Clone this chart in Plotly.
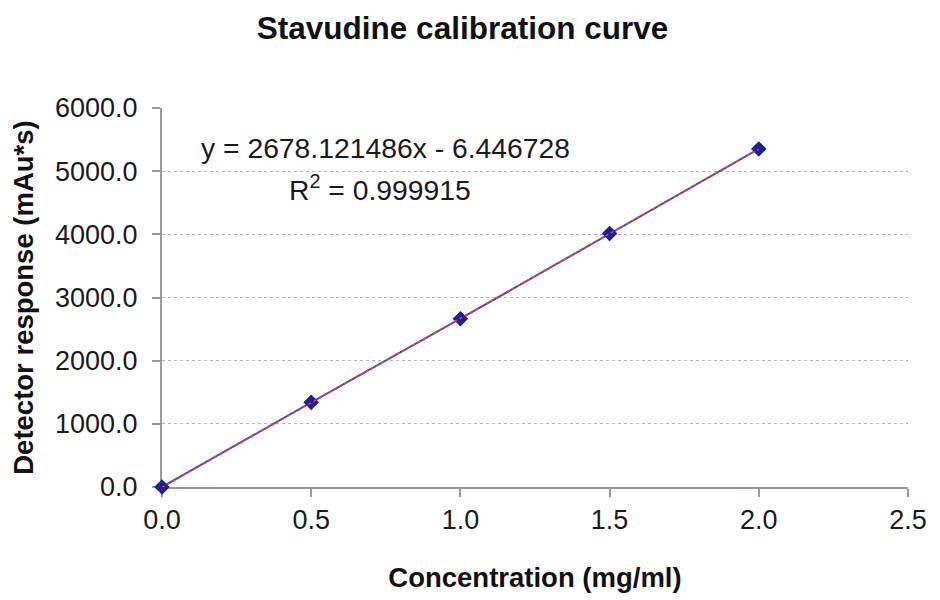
import numpy as np
import plotly.graph_objects as go

# calibration data (concentration mg/ml vs peak area mAu*s)
conc = [0.0, 0.5, 1.0, 1.5, 2.0]
response = [0.0, 1340.0, 2664.0, 4013.0, 5352.0]

slope = 2678.121486
intercept = -6.446728
r_squared = 0.999915

x_ticks = [0.0, 0.5, 1.0, 1.5, 2.0, 2.5]
y_ticks = [0, 1000, 2000, 3000, 4000, 5000, 6000]

_FONT = "Liberation Sans, Arial, sans-serif"
_AXIS = dict(
    showline=True,
    linecolor="#9a9a9a",
    linewidth=2,
    ticks="outside",
    ticklen=8,
    tickwidth=2,
    tickcolor="#9a9a9a",
    tickfont=dict(family=_FONT, size=27, color="#1a1a1a"),
    zeroline=False,
    automargin=False,
    layer="below traces",
)

fit_x = np.array([min(conc), max(conc)])
fit_y = slope * fit_x + intercept

fig = go.Figure()
fig.add_trace(go.Scatter(
    x=conc, y=response, mode="lines+markers", name="Stavudine",
    line=dict(color="#4a4ab8", width=2),
    marker=dict(symbol="diamond", size=12, color="#1f1f8f"),
    cliponaxis=False,
))
fig.add_trace(go.Scatter(
    x=fit_x, y=fit_y, mode="lines", name="Linear fit",
    line=dict(color="#ff3b3b", width=1.5, dash="dot"),
))

fig.add_annotation(
    x=0.125, y=5367, xref="x", yref="y", xanchor="left", yanchor="middle",
    text=f"y = {slope:.6f}x - {abs(intercept):.6f}", showarrow=False,
    font=dict(family=_FONT, size=28.3, color="#1a1a1a"),
)
fig.add_annotation(
    x=0.42, y=4735, xref="x", yref="y", xanchor="left", yanchor="middle",
    text=f"R<sup>2</sup> = {r_squared:.6f}", showarrow=False,
    font=dict(family=_FONT, size=28.3, color="#1a1a1a"),
)

# page body has an 8px margin, so the figure is drawn 8px in from the top-left
fig.update_layout(
    width=932, height=592,
    paper_bgcolor="white", plot_bgcolor="white",
    margin=dict(l=154, r=32, t=100, b=113, autoexpand=False),
    showlegend=False,
    title=dict(
        text="<b>Stavudine calibration curve</b>", x=0.4877, xanchor="center",
        y=0.966, yanchor="middle",
        font=dict(family=_FONT, size=31.5, color="#111111"),
    ),
)
fig.update_xaxes(
    **_AXIS, range=[0, 2.5], tickvals=x_ticks, tickformat=".1f", showgrid=False,
    title=dict(text="<b>Concentration (mg/ml)</b>", standoff=33,
               font=dict(family=_FONT, size=27.5, color="#111111")),
)
fig.update_yaxes(
    **_AXIS, range=[0, 6000], tickvals=y_ticks, tickformat=".1f",
    ticklabelstandoff=9,
    showgrid=True, gridcolor="#b5b5b5", gridwidth=1, griddash="dot",
    title=dict(text="<b>Detector response (mAu*s)</b>", standoff=15,
               font=dict(family=_FONT, size=27.5, color="#111111")),
)

fig.write_html("out.html")
